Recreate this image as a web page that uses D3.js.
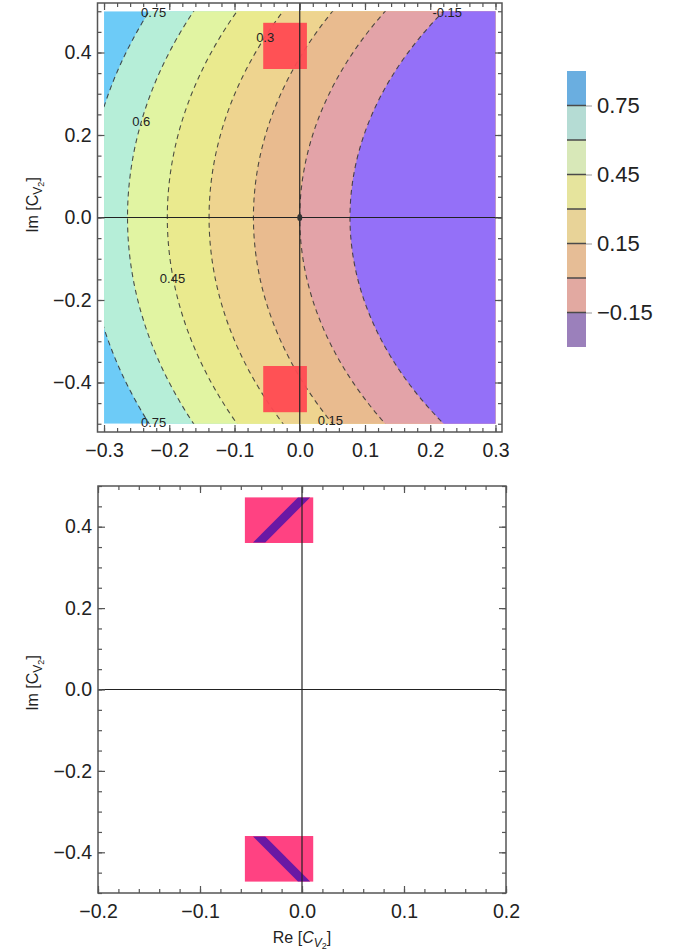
<!DOCTYPE html>
<html lang="en">
<head>
<meta charset="utf-8">
<title>D3: contour bands</title>
<script src="https://cdn.jsdelivr.net/npm/d3@7"></script>
<style>
  body { margin: 0; background: #fff; }
  svg { font-family: "Liberation Sans", Arial, sans-serif; }
  .axis path { stroke: none; }
  .axis line { stroke: #555; stroke-width: 1.2; }
</style>
</head>
<body>
<script>
var w = 677;
var h = 951;

// contour levels, and radius of each level circle around the centre (data units)
var levels = [-0.15, 0, 0.15, 0.3, 0.45, 0.6, 0.75];
var levelRadius = [0.943, 1.02, 1.091, 1.159, 1.223, 1.284, 1.347];
var centre = [1.02, 0];
// band below -0.15 first, band above 0.75 last
var bandColors = ["#9470f8", "#e3a3a8", "#e9bb8f", "#eed48f", "#eaea8e", "#e1f4a2", "#b6eed8", "#6dcbf7"];
var legendColors = ["#9b80bb", "#e2a9a1", "#e6bd96", "#e8d398", "#e6e49d", "#d8e8b8", "#b5dcd4", "#6aaee0"];
var legendTicks = [-0.15, 0.15, 0.45, 0.75];

var contourLabels = [
  {text: "0.75", x: -0.224, y: 0.498},
  {text: "0.3", x: -0.053, y: 0.437},
  {text: "-0.15", x: 0.226, y: 0.498},
  {text: "0.6", x: -0.243, y: 0.232},
  {text: "0.45", x: -0.195, y: -0.147},
  {text: "0.75", x: -0.224, y: -0.498},
  {text: "0.15", x: 0.047, y: -0.491}
];

// allowed boxes (same in both panels) and the band inside them
var boxX = [-0.056, 0.011];
var boxY = [[0.36, 0.472], [-0.472, -0.36]];
var bandUpper = [[-0.048, 0.361], [-0.036, 0.361], [0.008, 0.472], [-0.004, 0.472]];
var bandLower = [[-0.048, -0.361], [-0.036, -0.361], [0.008, -0.472], [-0.004, -0.472]];

var xTicksTop = [-0.3, -0.2, -0.1, 0, 0.1, 0.2, 0.3];
var xTicksBottom = [-0.2, -0.1, 0, 0.1, 0.2];
var yTicks = [-0.4, -0.2, 0, 0.2, 0.4];

var svg = d3.select("body")
  .append("svg")
  .attr("width", w)
  .attr("height", h);

var fmt = d3.format(".1f");

function bigText(g) {
  g.selectAll("text")
    .style("font-size", "19.5px")
    .style("fill", "#222");
}

function frame(x, y, xMaj, xMin, yMaj, yMin) {
  var x0 = x.range()[0], x1 = x.range()[1];
  var y0 = y.range()[0], y1 = y.range()[1];

  svg.append("g").attr("class", "axis")
    .attr("transform", "translate(0," + y0 + ")")
    .call(d3.axisBottom(x).tickValues(xMaj).tickSize(-7).tickPadding(11).tickFormat(fmt))
    .call(bigText);
  svg.append("g").attr("class", "axis")
    .attr("transform", "translate(0," + y0 + ")")
    .call(d3.axisBottom(x).tickValues(xMin).tickSize(-4).tickFormat(""));
  svg.append("g").attr("class", "axis")
    .attr("transform", "translate(0," + y1 + ")")
    .call(d3.axisTop(x).tickValues(xMaj).tickSize(-7).tickFormat(""));
  svg.append("g").attr("class", "axis")
    .attr("transform", "translate(0," + y1 + ")")
    .call(d3.axisTop(x).tickValues(xMin).tickSize(-4).tickFormat(""));

  svg.append("g").attr("class", "axis")
    .attr("transform", "translate(" + x0 + ",0)")
    .call(d3.axisLeft(y).tickValues(yMaj).tickSize(-7).tickPadding(6).tickFormat(fmt))
    .call(bigText);
  svg.append("g").attr("class", "axis")
    .attr("transform", "translate(" + x0 + ",0)")
    .call(d3.axisLeft(y).tickValues(yMin).tickSize(-4).tickFormat(""));
  svg.append("g").attr("class", "axis")
    .attr("transform", "translate(" + x1 + ",0)")
    .call(d3.axisRight(y).tickValues(yMaj).tickSize(-7).tickFormat(""));
  svg.append("g").attr("class", "axis")
    .attr("transform", "translate(" + x1 + ",0)")
    .call(d3.axisRight(y).tickValues(yMin).tickSize(-4).tickFormat(""));

  svg.append("rect")
    .attr("x", x0).attr("y", y1)
    .attr("width", x1 - x0).attr("height", y0 - y1)
    .attr("fill", "none")
    .attr("stroke", "#555")
    .attr("stroke-width", 1.5);
}

function zeroLines(x, y) {
  svg.append("line")
    .attr("x1", x(0)).attr("x2", x(0))
    .attr("y1", y.range()[0]).attr("y2", y.range()[1])
    .attr("stroke", "#222").attr("stroke-width", 1.2);
  svg.append("line")
    .attr("x1", x.range()[0]).attr("x2", x.range()[1])
    .attr("y1", y(0)).attr("y2", y(0))
    .attr("stroke", "#222").attr("stroke-width", 1.2);
}

function yTitle(cx, cy) {
  var t = svg.append("text")
    .attr("transform", "translate(" + cx + "," + cy + ") rotate(-90)")
    .attr("text-anchor", "middle")
    .attr("font-size", "16px")
    .attr("fill", "#222");
  t.append("tspan").text("Im [C");
  t.append("tspan").attr("font-size", "12px").attr("dy", 4).text("V");
  t.append("tspan").attr("font-size", "9px").attr("dy", 2).text("2");
  t.append("tspan").attr("dy", -6).text("]");
}

// ---------- top panel: contour plot ----------
var x1s = d3.scaleLinear().domain([-0.31, 0.31]).range([97.5, 502]);
var y1s = d3.scaleLinear().domain([-0.52, 0.52]).range([432, 3]);

svg.append("clipPath").attr("id", "plotArea")
  .append("rect")
  .attr("x", x1s(-0.3)).attr("y", y1s(0.5))
  .attr("width", x1s(0.3) - x1s(-0.3))
  .attr("height", y1s(-0.5) - y1s(0.5));

var cg = svg.append("g").attr("clip-path", "url(#plotArea)");

cg.append("rect")
  .attr("x", x1s(-0.3)).attr("y", y1s(0.5))
  .attr("width", x1s(0.3) - x1s(-0.3))
  .attr("height", y1s(-0.5) - y1s(0.5))
  .attr("fill", bandColors[bandColors.length - 1]);

var rings = levels.map(function(l, i) { return {level: l, r: levelRadius[i], color: bandColors[i]}; })
  .reverse();

cg.selectAll("ellipse.band")
  .data(rings)
  .enter()
  .append("ellipse")
  .attr("class", "band")
  .attr("cx", x1s(centre[0]))
  .attr("cy", y1s(centre[1]))
  .attr("rx", function(d) { return x1s(centre[0] + d.r) - x1s(centre[0]); })
  .attr("ry", function(d) { return y1s(centre[1]) - y1s(centre[1] + d.r); })
  .attr("fill", function(d) { return d.color; });

cg.selectAll("ellipse.line")
  .data(rings)
  .enter()
  .append("ellipse")
  .attr("class", "line")
  .attr("cx", x1s(centre[0]))
  .attr("cy", y1s(centre[1]))
  .attr("rx", function(d) { return x1s(centre[0] + d.r) - x1s(centre[0]); })
  .attr("ry", function(d) { return y1s(centre[1]) - y1s(centre[1] + d.r); })
  .attr("fill", "none")
  .attr("stroke", "#333")
  .attr("stroke-opacity", 0.85)
  .attr("stroke-width", 1.1)
  .attr("stroke-dasharray", "5,4");

cg.selectAll("rect.box")
  .data(boxY)
  .enter()
  .append("rect")
  .attr("class", "box")
  .attr("x", x1s(boxX[0]))
  .attr("y", function(d) { return y1s(d[1]); })
  .attr("width", x1s(boxX[1]) - x1s(boxX[0]))
  .attr("height", function(d) { return y1s(d[0]) - y1s(d[1]); })
  .attr("fill", "#ff4a52")
  .attr("fill-opacity", 0.95);

svg.append("g").selectAll("text")
  .data(contourLabels)
  .enter()
  .append("text")
  .text(function(d) { return d.text; })
  .attr("x", function(d) { return x1s(d.x); })
  .attr("y", function(d) { return y1s(d.y); })
  .attr("dy", "0.35em")
  .attr("text-anchor", "middle")
  .attr("font-size", "13px")
  .attr("fill", "#222");

zeroLines(x1s, y1s);
svg.append("ellipse")
  .attr("cx", x1s(0)).attr("cy", y1s(0))
  .attr("rx", 2.5).attr("ry", 3.5)
  .attr("fill", "#333");

frame(x1s, y1s, xTicksTop, d3.range(-0.3, 0.301, 0.02), yTicks, d3.range(-0.5, 0.501, 0.05));
yTitle(38, 205);

// legend
var lg = d3.scaleLinear().domain([-0.3, 0.9]).range([347, 71]);
var edges = [-0.3].concat(levels, [0.9]);
var legend = svg.append("g");

legend.selectAll("rect")
  .data(legendColors)
  .enter()
  .append("rect")
  .attr("x", 567)
  .attr("width", 19)
  .attr("y", function(d, i) { return lg(edges[i + 1]); })
  .attr("height", function(d, i) { return lg(edges[i]) - lg(edges[i + 1]); })
  .attr("fill", function(d) { return d; });

legend.selectAll("line.edge")
  .data(levels)
  .enter()
  .append("line")
  .attr("class", "edge")
  .attr("x1", 567).attr("x2", 586)
  .attr("y1", function(d) { return lg(d); })
  .attr("y2", function(d) { return lg(d); })
  .attr("stroke", "#4a4a4a")
  .attr("stroke-width", 1.5);

var lax = legend.append("g")
  .attr("class", "axis")
  .attr("transform", "translate(586,0)")
  .call(d3.axisRight(lg).tickValues(legendTicks).tickSize(6).tickPadding(5).tickFormat(d3.format(".2f")));
lax.selectAll("text").style("font-size", "22px").style("fill", "#222");
lax.selectAll("line").style("stroke", "#aaa");

// ---------- bottom panel ----------
var x2s = d3.scaleLinear().domain([-0.2, 0.2]).range([98, 506]);
var y2s = d3.scaleLinear().domain([-0.5, 0.5]).range([893, 486]);

svg.selectAll("rect.box2")
  .data(boxY)
  .enter()
  .append("rect")
  .attr("class", "box2")
  .attr("x", x2s(boxX[0]))
  .attr("y", function(d) { return y2s(d[1]); })
  .attr("width", x2s(boxX[1]) - x2s(boxX[0]))
  .attr("height", function(d) { return y2s(d[0]) - y2s(d[1]); })
  .attr("fill", "#ff4282");

var line2 = d3.line()
  .x(function(d) { return x2s(d[0]); })
  .y(function(d) { return y2s(d[1]); })
  .curve(d3.curveLinearClosed);

svg.selectAll("path.band2")
  .data([bandUpper, bandLower])
  .enter()
  .append("path")
  .attr("class", "band2")
  .attr("d", line2)
  .attr("fill", "#6a18a4");

zeroLines(x2s, y2s);
frame(x2s, y2s, xTicksBottom, d3.range(-0.2, 0.201, 0.02), yTicks, d3.range(-0.5, 0.501, 0.05));
yTitle(38, 683);

var xt = svg.append("text")
  .attr("x", 302).attr("y", 943)
  .attr("text-anchor", "middle")
  .attr("font-size", "16px")
  .attr("fill", "#222");
xt.append("tspan").text("Re [");
xt.append("tspan").attr("font-style", "italic").text("C");
xt.append("tspan").attr("font-style", "italic").attr("font-size", "12px").attr("dy", 4).text("V");
xt.append("tspan").attr("font-size", "9px").attr("dy", 2).text("2");
xt.append("tspan").attr("dy", -6).text("]");
</script>
</body>
</html>
